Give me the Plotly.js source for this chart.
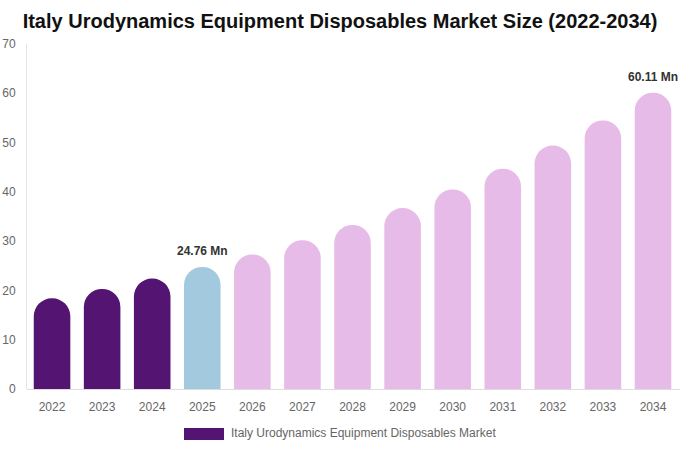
<!DOCTYPE html>
<html>
<head>
<meta charset="utf-8">
<script src="https://cdn.plot.ly/plotly-3.0.1.min.js"></script>
<style>
  html, body { margin: 0; padding: 0; background: #fff; }
  #chart { width: 680px; height: 450px; }
</style>
</head>
<body>
<div id="chart"></div>
<script>
// market size, USD Mn
var years = ['2022', '2023', '2024', '2025', '2026', '2027', '2028',
             '2029', '2030', '2031', '2032', '2033', '2034'];
var sizes = [18.4, 20.3, 22.4, 24.76, 27.3, 30.2, 33.3, 36.7, 40.5, 44.7, 49.4, 54.5, 60.11];
var labelled = ['2025', '2034'];
var seriesName = 'Italy Urodynamics Equipment Disposables Market';

var colHist = '#541472';
var colBase = '#a3c9de';
var colFcst = '#e6bbe8';

var barColors = years.map(function (y) {
  if (y < '2025') return colHist;
  if (y === '2025') return colBase;
  return colFcst;
});

var trace1 = {
  x: years,
  y: sizes,
  name: seriesName,
  type: 'bar',
  hoverinfo: 'x+y',
  marker: {
    color: barColors,
    cornerradius: '50%',
    line: { width: 0 }
  },
  showlegend: false
};

// value labels above the 2025 and 2034 bars
// (category axis: annotation x is the category's serial number)
var valueNotes = [];
years.forEach(function (y, i) {
  if (labelled.indexOf(y) < 0) return;
  valueNotes.push({
    x: i,
    y: sizes[i],
    xref: 'x', yref: 'y',
    text: '<b>' + sizes[i].toFixed(2) + ' Mn</b>',
    showarrow: false,
    yanchor: 'middle',
    yshift: 16,
    font: { size: 12, color: '#333' }
  });
});

var layout = {
  width: 680,
  height: 450,
  paper_bgcolor: '#fff',
  plot_bgcolor: '#fff',
  font: { family: 'Liberation Sans, Arial, sans-serif', size: 12, color: '#666' },
  title: {
    text: '<b>Italy Urodynamics Equipment Disposables Market Size (2022-2034)</b>',
    font: { size: 20, color: '#111' },
    x: 0.5,
    xanchor: 'center',
    y: 0.953,
    yanchor: 'middle'
  },
  bargap: 0.27,
  margin: { t: 44, r: 0, b: 61, l: 27 },
  xaxis: {
    type: 'category',
    showgrid: false,
    showline: false,
    zeroline: false,
    ticks: '',
    ticklabelstandoff: 9,
    tickfont: { size: 12, color: '#666' }
  },
  yaxis: {
    range: [0, 70],
    dtick: 10,
    showgrid: false,
    zeroline: true,
    zerolinecolor: '#ddd',
    zerolinewidth: 1,
    showline: true,
    linecolor: '#e4e4e4',
    linewidth: 1,
    ticks: '',
    ticklabelstandoff: 8,
    tickfont: { size: 12, color: '#666' }
  },
  shapes: [{
    type: 'rect',
    xref: 'paper', yref: 'paper',
    x0: (184 - 27) / 653, x1: (224 - 27) / 653,
    y0: -(440 - 389) / 345, y1: -(428 - 389) / 345,
    fillcolor: colHist,
    line: { width: 0 }
  }],
  annotations: valueNotes.concat([{
    text: seriesName,
    xref: 'paper', yref: 'paper',
    x: (229 - 27) / 653, xanchor: 'left',
    y: -(433 - 389) / 345, yanchor: 'middle',
    showarrow: false,
    font: { size: 12, color: '#666' }
  }])
};

var config = {
  responsive: false,
  displayModeBar: false
};

Plotly.newPlot('chart', [trace1], layout, config);
</script>
</body>
</html>
